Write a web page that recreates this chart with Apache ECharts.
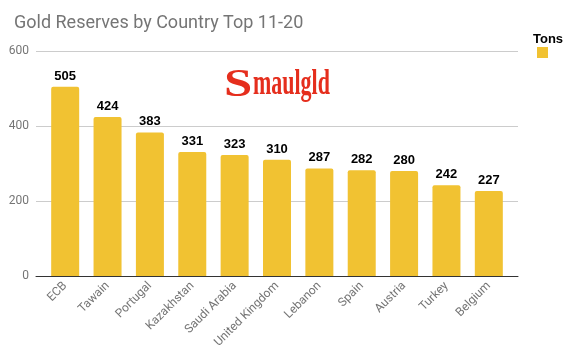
<!DOCTYPE html>
<html><head><meta charset="utf-8">
<script src="https://cdn.jsdelivr.net/npm/echarts@6/dist/echarts.min.js"></script>
<style>html,body{margin:0;padding:0;background:#fff}#c{width:576px;height:357px}</style>
</head><body><div id="c"></div>
<script>
const categories = ['ECB','Tawain','Portugal','Kazakhstan','Saudi Arabia','United Kingdom','Lebanon','Spain','Austria','Turkey','Belgium'];
const tons = [505,424,383,331,323,310,287,282,280,242,227];
const yTicks = [0,200,400,600];

const chart = echarts.init(document.getElementById('c'));
chart.setOption({
  animation: false,
  title: [
    {text: 'Gold Reserves by Country Top 11-20', left: 9, top: 9,
     textStyle: {fontFamily: 'Roboto', fontWeight: 'normal', fontSize: 18, color: '#757575'}},
    {text: 'Tons', left: 528, top: 28,
     textStyle: {fontFamily: 'Arial, Liberation Sans', fontWeight: 'bold', fontSize: 13, color: '#000'}}
  ],
  legend: {data: ['Tons'], left: 537, top: 47, itemWidth: 11, itemHeight: 11, icon: 'rect',
    formatter: () => '', itemGap: 0, padding: 0},
  graphic: [
    {type: 'text', x: 224, y: 66, scaleX: 1.27, style: {text: 'S', fill: '#e52e1d', font: 'bold 40px "Liberation Serif"'}},
    {type: 'text', x: 253, y: 67, scaleX: 0.61, style: {text: 'maulgld', fill: '#e52e1d', font: 'bold 36px "Liberation Serif"'}}
  ],
  grid: [
    {left: 44, right: 66, top: 51, bottom: 81},
    {left: 36, right: 58, top: 51, bottom: 81}
  ],
  xAxis: [
    {type: 'category', gridIndex: 0, data: categories,
     axisLine: {show: false}, axisTick: {show: false},
     axisLabel: {rotate: 45, color: '#757575', fontSize: 12, fontFamily: 'Roboto', margin: 8, interval: 0}},
    {type: 'category', gridIndex: 1, data: [''],
     axisLine: {show: true, lineStyle: {color: '#333', width: 1}}, axisTick: {show: false}, axisLabel: {show: false}}
  ],
  yAxis: [
    {type: 'value', gridIndex: 0, min: 0, max: 600, interval: 200, show: false, splitLine: {show: false}},
    {type: 'value', gridIndex: 1, min: 0, max: 600, interval: 200,
     axisLine: {show: false}, axisTick: {show: false},
     axisLabel: {color: '#757575', fontSize: 12, fontFamily: 'Roboto', margin: 7,
       formatter: v => yTicks.includes(v) ? String(v) : ''},
     splitLine: {lineStyle: {color: '#cccccc'}}}
  ],
  series: [{
    name: 'Tons', type: 'bar', xAxisIndex: 0, yAxisIndex: 0, data: tons,
    barWidth: 28, itemStyle: {color: '#f1c232', borderRadius: [2,2,0,0]},
    label: {show: true, position: 'top', distance: 4, color: '#000', fontWeight: 'bold', fontSize: 13, fontFamily: 'Arial, Liberation Sans'}
  }]
});
</script></body></html>
